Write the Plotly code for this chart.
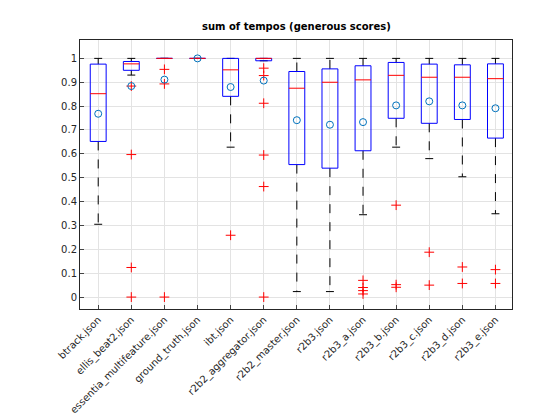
import plotly.graph_objects as go

names = ['btrack.json', 'ellis_beat2.json', 'essentia_multifeature.json', 'ground_truth.json',
         'ibt.json', 'r2b2_aggregator.json', 'r2b2_master.json', 'r2b3.json', 'r2b3_a.json',
         'r2b3_b.json', 'r2b3_c.json', 'r2b3_d.json', 'r2b3_e.json']
upper = [1.0, 1.0, 1.0, 1.0, 1.0, 1.0, 1.0, 1.0, 1.0, 1.0, 1.0, 1.0, 1.0]
q3 = [0.976, 0.987, 1.0, 1.0, 1.0, 1.0, 0.945, 0.956, 0.969, 0.983, 0.976, 0.973, 0.977]
median = [0.852, 0.977, 1.0, 1.0, 0.952, 1.0, 0.875, 0.90, 0.91, 0.929, 0.921, 0.921, 0.915]
q1 = [0.652, 0.95, 1.0, 1.0, 0.841, 0.99, 0.555, 0.54, 0.613, 0.749, 0.728, 0.744, 0.666]
lower = [0.305, 0.930, 1.0, 1.0, 0.628, 0.99, 0.023, 0.023, 0.345, 0.628, 0.58, 0.504, 0.349]
means = [0.768, 0.884, 0.911, 1.0, 0.880, 0.907, 0.741, 0.722, 0.733, 0.803, 0.82, 0.803, 0.791]
outliers = [[], [0.884, 0.597, 0.124, 0.0], [0.954, 0.893, 0.0], [], [0.259],
            [0.959, 0.928, 0.812, 0.595, 0.463, 0.0], [], [],
            [0.07, 0.04, 0.027, 0.013], [0.385, 0.052, 0.041], [0.188, 0.05],
            [0.126, 0.057], [0.115, 0.057]]

hw = 0.24   # box half width
cw = 0.12   # whisker cap half width

fig = go.Figure()
bx, by, mx, my, wx, wy, cx, cy, ox, oy = [], [], [], [], [], [], [], [], [], []
for i in range(len(names)):
    bx += [i - hw, i + hw, i + hw, i - hw, i - hw, None]
    by += [q1[i], q1[i], q3[i], q3[i], q1[i], None]
    mx += [i - hw, i + hw, None]
    my += [median[i], median[i], None]
    wx += [i, i, None, i, i, None]
    wy += [q3[i], upper[i], None, q1[i], lower[i], None]
    cx += [i - cw, i + cw, None, i - cw, i + cw, None]
    cy += [upper[i], upper[i], None, lower[i], lower[i], None]
    for v in outliers[i]:
        ox.append(i)
        oy.append(v)

fig.add_trace(go.Scatter(x=wx, y=wy, mode='lines', line=dict(color='black', width=1, dash='dash')))
fig.add_trace(go.Scatter(x=cx, y=cy, mode='lines', line=dict(color='black', width=1)))
fig.add_trace(go.Scatter(x=bx, y=by, mode='lines', line=dict(color='blue', width=1)))
fig.add_trace(go.Scatter(x=mx, y=my, mode='lines', line=dict(color='red', width=1)))
fig.add_trace(go.Scatter(x=ox, y=oy, mode='markers',
                         marker=dict(symbol='cross-thin', size=7, line=dict(color='red', width=1))))
fig.add_trace(go.Scatter(x=list(range(len(names))), y=means, mode='markers',
                         marker=dict(symbol='circle-open', size=7, color='#0072BD',
                                     line=dict(color='#0072BD', width=1))))

fig.update_layout(
    width=560, height=420, showlegend=False,
    paper_bgcolor='white', plot_bgcolor='white',
    margin=dict(l=72, r=56, t=32, b=94),
    font=dict(family='DejaVu Sans', size=10, color='#262626'),
    title=dict(text='<b>sum of tempos (generous scores)</b>', x=0.515, xanchor='center',
               y=0.965, font=dict(size=10, color='black')),
)
fig.update_xaxes(range=[-0.55, 12.5], tickvals=list(range(len(names))), ticktext=names,
                 tickangle=-45, showgrid=True, gridcolor='#e3e3e3', zeroline=False,
                 showline=True, mirror=True, linecolor='#262626', ticks='inside', ticklen=4)
fig.update_yaxes(range=[-0.05, 1.077], tickvals=[i / 10 for i in range(11)],
                 ticktext=['0', '0.1', '0.2', '0.3', '0.4', '0.5', '0.6', '0.7', '0.8', '0.9', '1'],
                 showgrid=True, gridcolor='#e3e3e3', zeroline=False,
                 showline=True, mirror=True, linecolor='#262626', ticks='inside', ticklen=4)

fig.write_html("out.html")
